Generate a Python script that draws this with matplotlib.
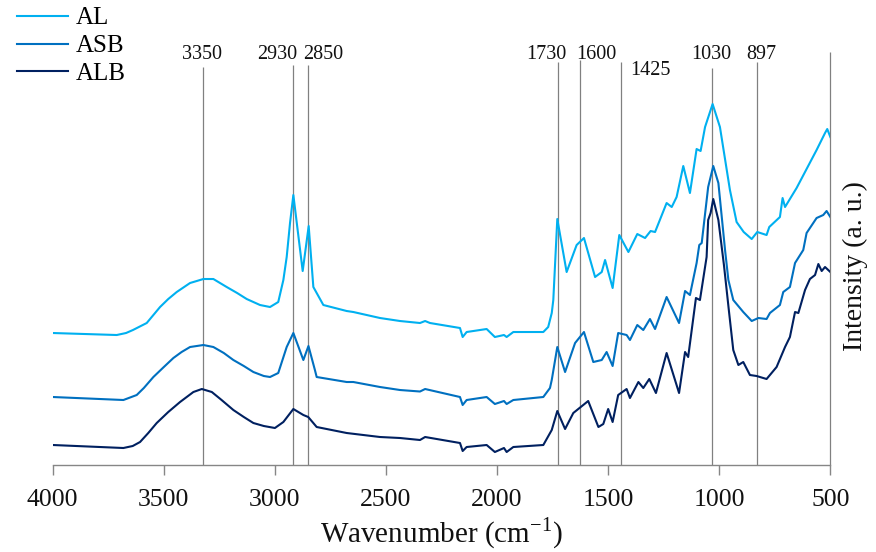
import matplotlib
matplotlib.use("Agg")
import matplotlib.pyplot as plt

plt.rcParams['font.family'] = ['Liberation Serif', 'DejaVu Serif']
plt.rcParams['mathtext.fontset'] = 'custom'
plt.rcParams['mathtext.rm'] = 'Liberation Serif'

# spectra (wavenumber cm-1, intensity a.u.)
al_wn = [4000, 3712, 3670, 3639, 3577, 3517, 3480, 3442, 3382, 3322, 3277, 3217, 3170, 3127,
         3067, 3022, 2985, 2962, 2947, 2932, 2917, 2875, 2848, 2827, 2782, 2677, 2647, 2527,
         2437, 2347, 2324, 2302, 2167, 2155, 2137, 2047, 2010, 1969, 1957, 1927, 1792, 1770,
         1754, 1747, 1729, 1687, 1642, 1609, 1559, 1529, 1514, 1480, 1450, 1409, 1369, 1334,
         1309, 1289, 1237, 1214, 1192, 1162, 1132, 1102, 1084, 1064, 1030, 997, 952, 922, 890,
         854, 829, 787, 775, 727, 715, 704, 652, 562, 524, 514, 500]
al_int = [1.32, 1.30, 1.32, 1.35, 1.42, 1.58, 1.66, 1.73, 1.82, 1.86, 1.86, 1.78, 1.72, 1.66,
          1.60, 1.58, 1.63, 1.85, 2.08, 2.42, 2.70, 1.94, 2.39, 1.78, 1.60, 1.54, 1.53, 1.47,
          1.44, 1.42, 1.44, 1.42, 1.37, 1.28, 1.33, 1.36, 1.28, 1.30, 1.28, 1.33, 1.33, 1.38,
          1.52, 1.65, 2.46, 1.93, 2.20, 2.27, 1.88, 1.93, 2.05, 1.77, 2.30, 2.13, 2.31, 2.27,
          2.34, 2.33, 2.62, 2.58, 2.68, 2.99, 2.72, 3.16, 3.14, 3.38, 3.61, 3.38, 2.75, 2.43, 2.33,
          2.26, 2.33, 2.30, 2.38, 2.48, 2.67, 2.58, 2.77, 3.15, 3.32, 3.36, 3.28]

asb_wn = [4000, 3682, 3622, 3590, 3547, 3500, 3457, 3420, 3382, 3322, 3277, 3230, 3187, 3140,
          3097, 3050, 3022, 2985, 2947, 2917, 2872, 2849, 2820, 2812, 2677, 2647, 2527, 2437,
          2347, 2324, 2167, 2155, 2137, 2047, 2010, 1969, 1957, 1927, 1792, 1762, 1754, 1729,
          1694, 1649, 1609, 1567, 1529, 1507, 1480, 1455, 1417, 1402, 1369, 1342, 1312, 1289,
          1237, 1181, 1154, 1132, 1102, 1090, 1079, 1050, 1027, 1004, 974, 959, 937, 892, 854,
          824, 787, 772, 727, 712, 682, 659, 622, 607, 562, 532, 517, 500]
asb_int = [0.68, 0.65, 0.70, 0.77, 0.88, 0.98, 1.07, 1.13, 1.18, 1.20, 1.18, 1.12, 1.05, 0.99,
           0.93, 0.89, 0.88, 0.92, 1.18, 1.32, 1.05, 1.19, 0.95, 0.88, 0.83, 0.83, 0.78, 0.75,
           0.735, 0.76, 0.68, 0.60, 0.65, 0.68, 0.61, 0.64, 0.61, 0.65, 0.68, 0.77, 0.85, 1.18,
           0.93, 1.22, 1.33, 1.03, 1.05, 1.13, 0.99, 1.32, 1.30, 1.25, 1.40, 1.35, 1.46, 1.36,
           1.68, 1.42, 1.74, 1.70, 2.02, 2.20, 2.22, 2.78, 2.99, 2.82, 2.15, 1.85, 1.65, 1.53,
           1.44, 1.47, 1.46, 1.52, 1.60, 1.73, 1.78, 2.02, 2.15, 2.32, 2.47, 2.50, 2.54, 2.48]

alb_wn = [4000, 3682, 3640, 3607, 3570, 3532, 3480, 3427, 3367, 3329, 3284, 3240, 3187, 3140,
          3097, 3050, 3000, 2962, 2917, 2872, 2850, 2812, 2677, 2527, 2437, 2347, 2324, 2167,
          2155, 2137, 2047, 2010, 1969, 1957, 1927, 1792, 1754, 1729, 1694, 1657, 1590, 1544,
          1522, 1500, 1480, 1455, 1417, 1402, 1364, 1342, 1315, 1285, 1237, 1181, 1154, 1140,
          1105, 1087, 1057, 1050, 1039, 1027, 1004, 979, 957, 937, 914, 892, 862, 832, 787, 742,
          704, 682, 659, 644, 614, 592, 569, 554, 539, 524, 500]
alb_int = [0.20, 0.17, 0.19, 0.23, 0.32, 0.42, 0.53, 0.63, 0.73, 0.76, 0.73, 0.65, 0.55, 0.48,
           0.42, 0.39, 0.37, 0.43, 0.56, 0.50, 0.48, 0.38, 0.32, 0.28, 0.27, 0.25, 0.28, 0.22,
           0.14, 0.18, 0.20, 0.13, 0.17, 0.13, 0.18, 0.20, 0.35, 0.54, 0.36, 0.52, 0.64, 0.38,
           0.41, 0.56, 0.43, 0.70, 0.76, 0.67, 0.83, 0.77, 0.86, 0.72, 1.12, 0.72, 1.13, 1.08,
           1.67, 1.65, 2.08, 2.45, 2.52, 2.66, 2.45, 2.00, 1.55, 1.15, 1.00, 1.03, 0.90, 0.89,
           0.86, 0.98, 1.18, 1.28, 1.53, 1.52, 1.75, 1.86, 1.90, 2.01, 1.94, 1.98, 1.93]

series_names = ['AL', 'ASB', 'ALB']

# band marker lines
band_pos = [3322, 2917, 2850, 1725, 1627, 1444, 1034, 829, 500]
band_top = [3.98, 4.00, 4.00, 4.03, 4.05, 4.03, 3.97, 4.03, 4.13]
band_labels = ['3350', '2930', '2850', '1730', '1600', '1425', '1030', '897']

xticks = [4000, 3500, 3000, 2500, 2000, 1500, 1000, 500]

# layout of the band labels (data coords)
label_x = [3326, 2992, 2782, 1780, 1555, 1312, 1035, 810]
label_y = [4.11, 4.11, 4.11, 4.11, 4.11, 3.945, 4.11, 4.11]

colors = ['#00B0F0', '#0070C0', '#002060']

fig = plt.figure(figsize=(8.76, 5.52), dpi=100)
ax = fig.add_axes([0.0602, 0.1576, 0.8877, 0.7699])

lines = []
for wn, inten, name, c in zip([al_wn, asb_wn, alb_wn], [al_int, asb_int, alb_int],
                              series_names, colors):
    ln, = ax.plot(wn, inten, color=c, lw=1.5, label=name, zorder=3)
    lines.append(ln)

ax.vlines(band_pos, 0, band_top, color='#808080', lw=0.9, zorder=2, clip_on=False)
for lab, x, y in zip(band_labels, label_x, label_y):
    ax.text(x, y, lab, ha='center', va='center', fontsize=14.5, color='#111111', clip_on=False)

ax.set_xlim(4000, 500)
ax.set_ylim(0, 4.25)
ax.set_xticks(xticks)
ax.set_xticklabels([str(t) for t in xticks])
ax.set_yticks([])
for s in ['left', 'right', 'top']:
    ax.spines[s].set_visible(False)
ax.spines['bottom'].set_color('#868686')
ax.spines['bottom'].set_linewidth(1.0)
ax.tick_params(axis='x', direction='out', length=7.2, width=1.0, color='#868686',
               labelsize=18.5, pad=10, labelcolor='#111111')

ax.set_xlabel('Wavenumber (cm$^{\\mathrm{-1}}$)', fontsize=21, color='#111111')
ax.xaxis.set_label_coords(0.5, -0.118)

fig.text(855 / 876, 1 - 266 / 552, 'Intensity (a. u.)', rotation=90, ha='center',
         va='center', fontsize=20, color='#111111')

fig.legend(handles=lines, loc='upper left', bbox_to_anchor=(17 / 876, 1 - 7 / 552),
           frameon=False, fontsize=18, handlelength=2.04, handletextpad=0.3,
           labelspacing=0.21, borderpad=0, borderaxespad=0)

fig.savefig('out.png', dpi=100)
